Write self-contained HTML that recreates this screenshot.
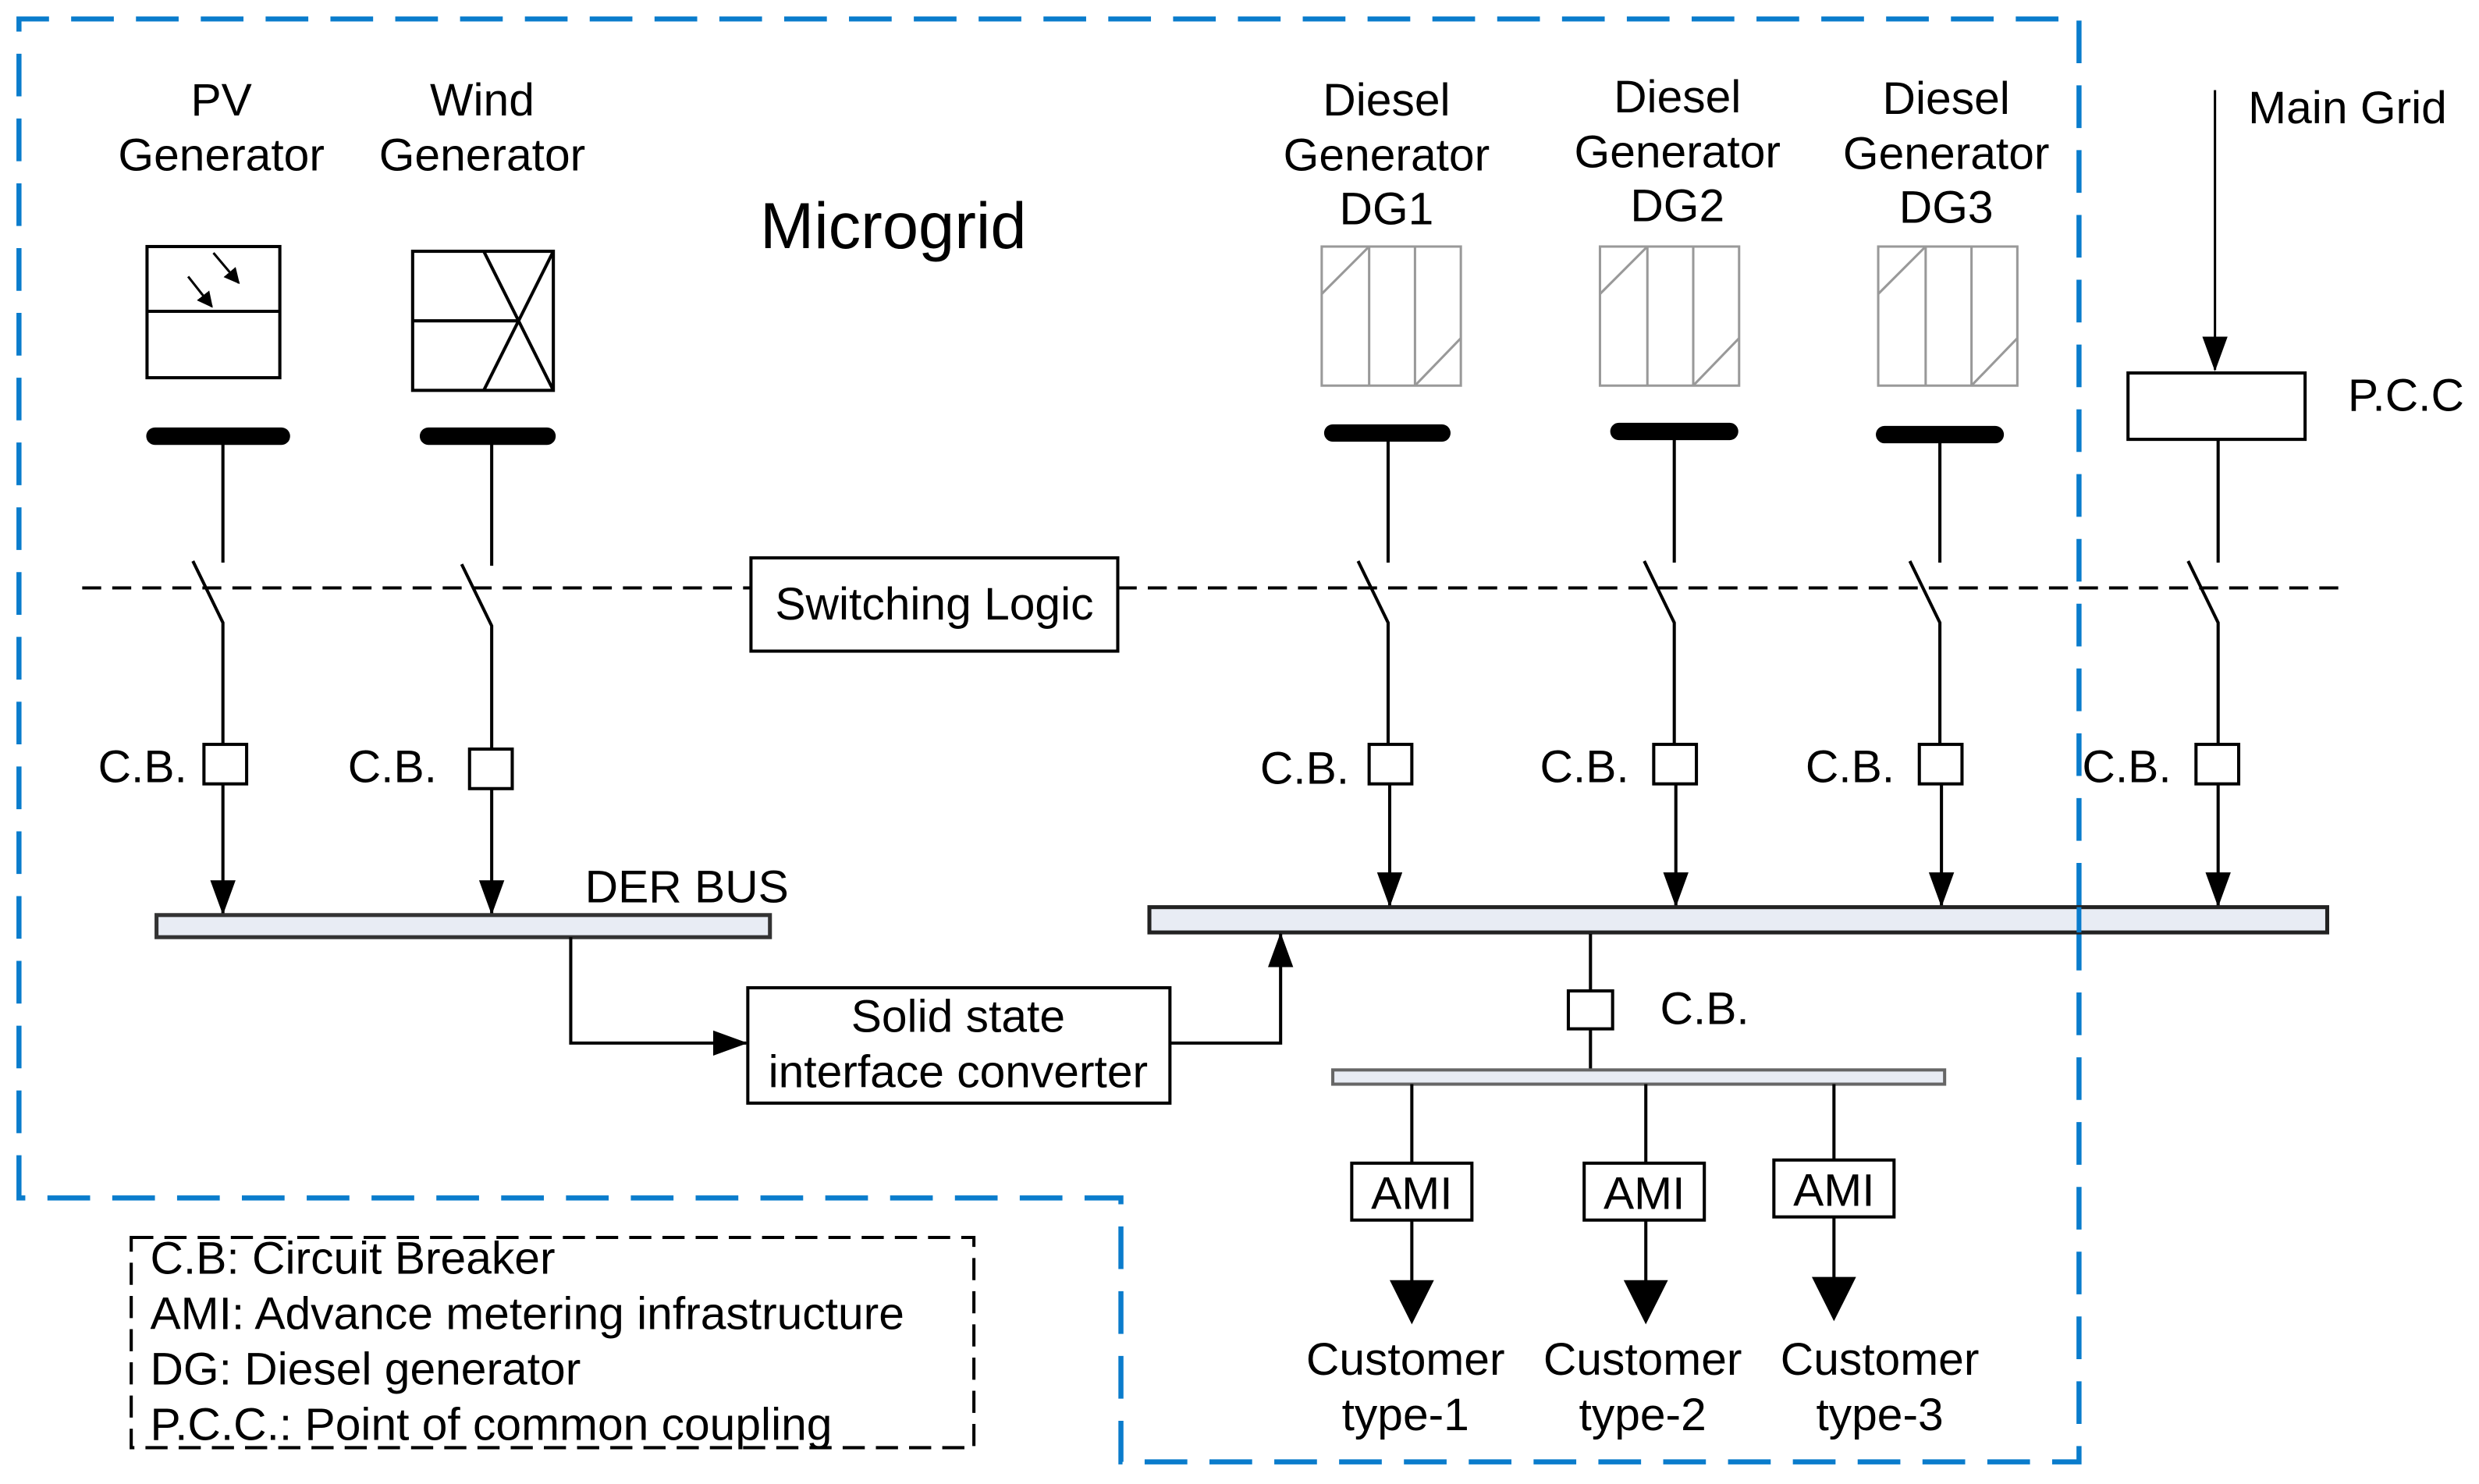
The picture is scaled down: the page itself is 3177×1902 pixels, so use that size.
<!DOCTYPE html>
<html><head><meta charset="utf-8"><style>
html,body{margin:0;padding:0;background:#fff;}
svg{display:block;}
text{font-family:"Liberation Sans",Arial,sans-serif;fill:#000;}
</style></head><body>
<svg width="3177" height="1902" viewBox="0 0 1568 939" preserveAspectRatio="none" xmlns="http://www.w3.org/2000/svg">
<defs>
<marker id="ar" markerWidth="10" markerHeight="10" refX="9" refY="5" orient="auto" markerUnits="userSpaceOnUse"><path d="M0,0 L10,5 L0,10 Z" fill="#000"/></marker>
<marker id="ar2" markerWidth="22" markerHeight="18" refX="21" refY="8" orient="auto" markerUnits="userSpaceOnUse"><path d="M0,0 L22,8 L0,16 Z" fill="#000"/></marker>
</defs>
<rect width="1568" height="939" fill="#fff"/>
<path d="M12,758 L12,12 L1315,12 L1315,925 L709,925 L709,758 Z" fill="none" stroke="#0a7ccc" stroke-width="3.2" stroke-dasharray="27,14"/>

<g font-size="29" text-anchor="middle">
<text x="140" y="73">PV</text><text x="140" y="108">Generator</text>
<text x="305" y="73">Wind</text><text x="305" y="108">Generator</text>
<text x="877" y="73">Diesel</text><text x="877" y="108">Generator</text><text x="877" y="142">DG1</text>
<text x="1061" y="71">Diesel</text><text x="1061" y="106">Generator</text><text x="1061" y="140">DG2</text>
<text x="1231" y="72">Diesel</text><text x="1231" y="107">Generator</text><text x="1231" y="141">DG3</text>
</g>
<text x="565" y="157" font-size="41" text-anchor="middle">Microgrid</text>
<text x="1422" y="78" font-size="29">Main Grid</text>
<text x="1485" y="260" font-size="29">P.C.C</text>

<g stroke="#000" stroke-width="2" fill="none">
<rect x="93" y="156" width="84" height="83"/>
<line x1="93" y1="197" x2="177" y2="197"/>
<line x1="119" y1="175" x2="134" y2="194" marker-end="url(#ar)" stroke-width="1.5"/>
<line x1="135" y1="160" x2="151" y2="179" marker-end="url(#ar)" stroke-width="1.5"/>
<rect x="261" y="159" width="89" height="88"/>
<line x1="261" y1="203" x2="328" y2="203"/>
<line x1="306" y1="159" x2="350" y2="247"/>
<line x1="350" y1="159" x2="306" y2="247"/>
</g>
<g stroke="#999" stroke-width="1.5" fill="none">
<g><rect x="836" y="156" width="88" height="88"/><line x1="866" y1="156" x2="866" y2="244"/><line x1="895" y1="156" x2="895" y2="244"/><line x1="836" y1="186" x2="866" y2="156"/><line x1="895" y1="244" x2="924" y2="214"/></g>
<g transform="translate(176,0)"><rect x="836" y="156" width="88" height="88"/><line x1="866" y1="156" x2="866" y2="244"/><line x1="895" y1="156" x2="895" y2="244"/><line x1="836" y1="186" x2="866" y2="156"/><line x1="895" y1="244" x2="924" y2="214"/></g>
<g transform="translate(352,0)"><rect x="836" y="156" width="88" height="88"/><line x1="866" y1="156" x2="866" y2="244"/><line x1="895" y1="156" x2="895" y2="244"/><line x1="836" y1="186" x2="866" y2="156"/><line x1="895" y1="244" x2="924" y2="214"/></g>
</g>
<g stroke="#000" stroke-width="11" stroke-linecap="round">
<line x1="98" y1="276" x2="178" y2="276"/>
<line x1="271" y1="276" x2="346" y2="276"/>
<line x1="843" y1="274" x2="912" y2="274"/>
<line x1="1024" y1="273" x2="1094" y2="273"/>
<line x1="1192" y1="275" x2="1262" y2="275"/>
</g>
<rect x="1346" y="236" width="112" height="42" fill="#fff" stroke="#000" stroke-width="2"/>
<line x1="1401" y1="57" x2="1401" y2="234" stroke="#000" stroke-width="1.5" marker-end="url(#ar2)"/>

<g stroke="#000" stroke-width="2" stroke-dasharray="12,7">
<line x1="52" y1="372" x2="475" y2="372"/>
<line x1="707" y1="372" x2="1480" y2="372"/>
</g>
<rect x="475" y="353" width="232" height="59" fill="#fff" stroke="#000" stroke-width="2"/>
<text x="591" y="392" font-size="29" text-anchor="middle">Switching Logic</text>

<g stroke="#000" stroke-width="2" fill="#fff">
<path d="M141,280 V356 M122,355 L141,394 V471" fill="none"/>
<rect x="129" y="471" width="27" height="25"/>
<line x1="141" y1="496" x2="141" y2="578" marker-end="url(#ar2)"/>
<path d="M311,280 V358 M292,357 L311,396 V474" fill="none"/>
<rect x="297" y="474" width="27" height="25"/>
<line x1="311" y1="499" x2="311" y2="578" marker-end="url(#ar2)"/>
<path d="M878,278 V356 M859,355 L878,394 V471" fill="none"/>
<rect x="866" y="471" width="27" height="25"/>
<line x1="879" y1="496" x2="879" y2="573" marker-end="url(#ar2)"/>
<path d="M1059,277 V356 M1040,355 L1059,394 V471" fill="none"/>
<rect x="1046" y="471" width="27" height="25"/>
<line x1="1060" y1="496" x2="1060" y2="573" marker-end="url(#ar2)"/>
<path d="M1227,279 V356 M1208,355 L1227,394 V471" fill="none"/>
<rect x="1214" y="471" width="27" height="25"/>
<line x1="1228" y1="496" x2="1228" y2="573" marker-end="url(#ar2)"/>
<path d="M1403,278 V356 M1384,355 L1403,394 V471" fill="none"/>
<rect x="1389" y="471" width="27" height="25"/>
<line x1="1403" y1="496" x2="1403" y2="573" marker-end="url(#ar2)"/>
</g>
<g font-size="29">
<text x="62" y="495">C.B.</text>
<text x="220" y="495">C.B.</text>
<text x="797" y="496">C.B.</text>
<text x="974" y="495">C.B.</text>
<text x="1142" y="495">C.B.</text>
<text x="1317" y="495">C.B.</text>
<text x="1050" y="648">C.B.</text>
</g>

<rect x="99" y="579" width="388" height="14" fill="#e8ecf4" stroke="#333" stroke-width="2.5"/>
<text x="370" y="571" font-size="29">DER BUS</text>
<rect x="727" y="574" width="745" height="16" fill="#e8ecf4" stroke="#222" stroke-width="2.5"/>
<line x1="1315" y1="574" x2="1315" y2="590" stroke="#0a7ccc" stroke-width="3"/>

<path d="M361,593 V660 H472" fill="none" stroke="#000" stroke-width="2" marker-end="url(#ar2)"/>
<rect x="473" y="625" width="267" height="73" fill="#fff" stroke="#000" stroke-width="2"/>
<text x="606" y="653" font-size="29" text-anchor="middle">Solid state</text>
<text x="606" y="688" font-size="29" text-anchor="middle">interface converter</text>
<path d="M740,660 H810 V591" fill="none" stroke="#000" stroke-width="2" marker-end="url(#ar2)"/>

<g stroke="#000" stroke-width="2" fill="#fff">
<line x1="1006" y1="591" x2="1006" y2="627"/>
<rect x="992" y="627" width="28" height="24"/>
<line x1="1006" y1="651" x2="1006" y2="678"/>
</g>
<rect x="843" y="677" width="387" height="9" fill="#e8ecf4" stroke="#666" stroke-width="2"/>
<g stroke="#000" stroke-width="2" fill="#fff">
<line x1="893" y1="686" x2="893" y2="736"/>
<line x1="1041" y1="686" x2="1041" y2="736"/>
<line x1="1160" y1="686" x2="1160" y2="734"/>
<rect x="855" y="736" width="76" height="36"/>
<rect x="1002" y="736" width="76" height="36"/>
<rect x="1122" y="734" width="76" height="36"/>
<line x1="893" y1="772" x2="893" y2="812"/>
<line x1="1041" y1="772" x2="1041" y2="812"/>
<line x1="1160" y1="770" x2="1160" y2="810"/>
</g>
<g fill="#000">
<path d="M879,810 L907,810 L893,838 Z"/>
<path d="M1027,810 L1055,810 L1041,838 Z"/>
<path d="M1146,808 L1174,808 L1160,836 Z"/>
</g>
<g font-size="29" text-anchor="middle">
<text x="893" y="765">AMI</text><text x="1040" y="765">AMI</text><text x="1160" y="763">AMI</text>
<text x="889" y="870">Customer</text><text x="889" y="905">type-1</text>
<text x="1039" y="870">Customer</text><text x="1039" y="905">type-2</text>
<text x="1189" y="870">Customer</text><text x="1189" y="905">type-3</text>
</g>

<rect x="83" y="783" width="533" height="133" fill="none" stroke="#000" stroke-width="2" stroke-dasharray="14,7"/>
<g font-size="29">
<text x="95" y="806">C.B: Circuit Breaker</text>
<text x="95" y="841">AMI: Advance metering infrastructure</text>
<text x="95" y="876">DG: Diesel generator</text>
<text x="95" y="911">P.C.C.: Point of common coupling</text>
</g>
</svg>
</body></html>
